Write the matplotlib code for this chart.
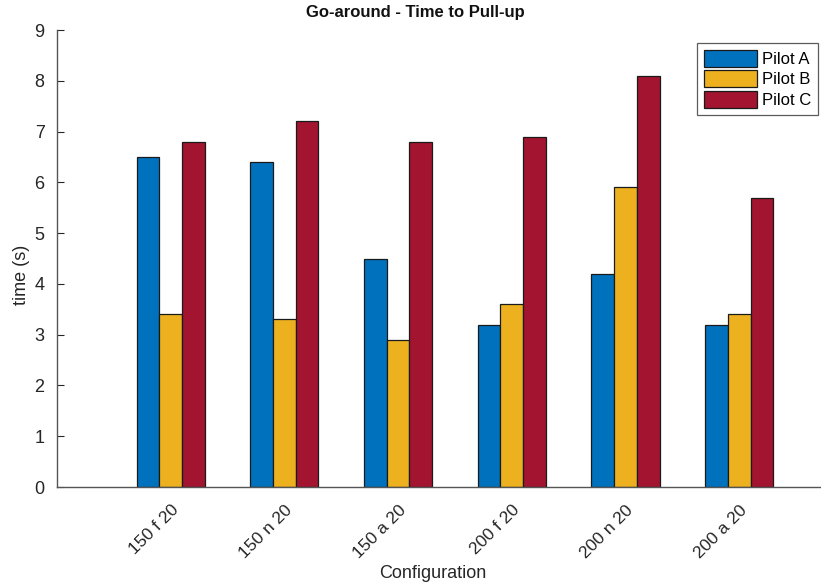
import numpy as np
import matplotlib
matplotlib.use("Agg")
import matplotlib.pyplot as plt

configs = ["150 f 20", "150 n 20", "150 a 20", "200 f 20", "200 n 20", "200 a 20"]
pilot_a = [6.5, 6.4, 4.5, 3.2, 4.2, 3.2]
pilot_b = [3.4, 3.3, 2.9, 3.6, 5.9, 3.4]
pilot_c = [6.8, 7.2, 6.8, 6.9, 8.1, 5.7]
series_names = ["Pilot A", "Pilot B", "Pilot C"]
colors = ["#0072BD", "#EDB120", "#A2142F"]

plt.rcParams['font.family'] = ['Liberation Sans', 'DejaVu Sans']
txt = '#262626'

fig = plt.figure(figsize=(8.21, 5.86), dpi=100)
ax = fig.add_axes([57/821, 1 - 487/586, 1 - 57/821, (487 - 30)/586])

x = np.arange(1, len(configs) + 1)
w = 0.2
for k, (vals, name, c) in enumerate(zip([pilot_a, pilot_b, pilot_c], series_names, colors)):
    ax.bar(x + (k - 1) * w, vals, width=w, color=c, edgecolor='#1a1a1a', linewidth=0.9, label=name)

ax.set_xlim(0.0, 6.72)
ax.set_ylim(0, 9)
ax.set_yticks(range(0, 10))
ax.set_xticks(x)
ax.set_xticklabels(configs, rotation=45, ha='right', rotation_mode='anchor')
ax.tick_params(axis='x', length=0, pad=11, labelsize=12.5, colors=txt)
ax.tick_params(axis='y', direction='in', length=5, labelsize=13, colors=txt, pad=9)
for s in ['top', 'right']:
    ax.spines[s].set_visible(False)
for s in ['left', 'bottom']:
    ax.spines[s].set_color('#555555')
    ax.spines[s].set_linewidth(1.0)

fig.text(415/821, 1 - 13/586, "Go-around - Time to Pull-up", ha='center', va='center',
         fontsize=12, fontweight='bold', color='#111111')
fig.text(433/821, 1 - 573/586, "Configuration", ha='center', va='center', fontsize=13, color=txt)
fig.text(22/821, 1 - 275/586, "time (s)", ha='center', va='center', rotation=90, fontsize=13, color=txt)

leg = ax.legend(loc='upper right', bbox_to_anchor=(818/821, 1 - 43/586), bbox_transform=fig.transFigure,
                fontsize=12, frameon=True, fancybox=False, handlelength=3.2, handleheight=1.2,
                handletextpad=0.3, labelspacing=0.2, borderpad=0.4, borderaxespad=0)
leg.get_frame().set_edgecolor('#333333')
leg.get_frame().set_linewidth(0.9)

fig.savefig("out.png", dpi=100)
